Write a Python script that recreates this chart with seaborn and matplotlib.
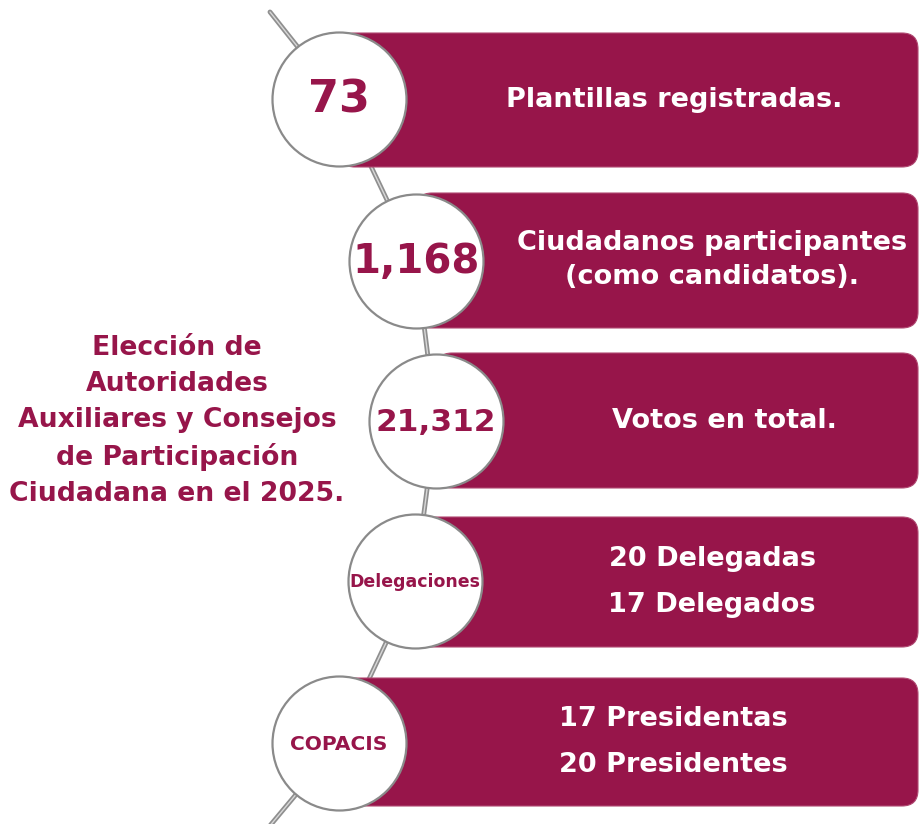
import matplotlib
matplotlib.use("Agg")
import matplotlib.pyplot as plt
import seaborn as sns
import pandas as pd
from matplotlib.patches import FancyBboxPatch


# datos de la infografia
numeros = ["73", "1,168", "21,312", "Delegaciones", "COPACIS"]
descripciones = [
    "Plantillas registradas.",
    "Ciudadanos participantes\n(como candidatos).",
    "Votos en total.",
    "20 Delegadas\n17 Delegados",
    "17 Presidentas\n20 Presidentes",
]
titulo = ("Elección de\nAutoridades\nAuxiliares y Consejos\n"
          "de Participación\nCiudadana en el 2025.")

# layout (pixeles)
circ_x = [339, 416, 436, 415, 339]
circ_y = [99, 261, 421, 581, 743]
radio = 67
caja_top = [33, 193, 353, 517, 678]
caja_bot = [167, 328, 488, 647, 806]
caja_der = 918
texto_x = [674, 712, 724, 712, 673]
num_size = [32, 29, 22.5, 12.5, 14.5]
linea_sep = [1.0, 1.4, 1.0, 1.98, 1.98]

guinda = "#97154a"

sns.set_theme(style="white")
plt.rcParams['font.family'] = ['DejaVu Sans']

fig = plt.figure(figsize=(9.22, 8.24), dpi=100)
ax = fig.add_axes([0, 0, 1, 1])
ax.set_xlim(0, 922)
ax.set_ylim(824, 0)
ax.axis("off")

# linea que conecta los circulos
conector = pd.DataFrame({
    "x": [270] + circ_x + [268],
    "y": [12] + circ_y + [828],
})
sns.lineplot(data=conector, x="x", y="y", sort=False, estimator=None,
             errorbar=None, color="#8f8f8f", linewidth=3.5, ax=ax, zorder=1)
sns.lineplot(data=conector, x="x", y="y", sort=False, estimator=None,
             errorbar=None, color="#d8d8d8", linewidth=1.0, ax=ax, zorder=1)

# cajas
for i in range(len(numeros)):
    caja = FancyBboxPatch((circ_x[i], caja_top[i]), caja_der - circ_x[i],
                          caja_bot[i] - caja_top[i],
                          boxstyle="round,pad=0,rounding_size=16",
                          facecolor=guinda, edgecolor="#b04a72",
                          linewidth=0.8, zorder=2)
    ax.add_patch(caja)
    ax.text(texto_x[i], (caja_top[i] + caja_bot[i]) / 2, descripciones[i],
            color="white", fontsize=19.5, fontweight="bold", ha="center",
            va="center", linespacing=linea_sep[i], zorder=4)

# circulos
diam_pt = 2 * radio * 72 / 100
circulos = pd.DataFrame({"x": circ_x, "y": circ_y})
sns.scatterplot(data=circulos, x="x", y="y", s=diam_pt ** 2, color="white",
                edgecolor="#8a8a8a", linewidth=1.6, ax=ax, zorder=3,
                legend=False)
ax.set_xlabel("")
ax.set_ylabel("")

for i in range(len(numeros)):
    ax.text(circ_x[i], circ_y[i] + 1, numeros[i], color=guinda,
            fontsize=num_size[i], fontweight="bold", ha="center",
            va="center", zorder=5)

# titulo a la izquierda
ax.text(177, 421, titulo, color=guinda, fontsize=19.2, fontweight="bold",
        ha="center", va="center", linespacing=1.48)

fig.savefig("out.png", dpi=100)
